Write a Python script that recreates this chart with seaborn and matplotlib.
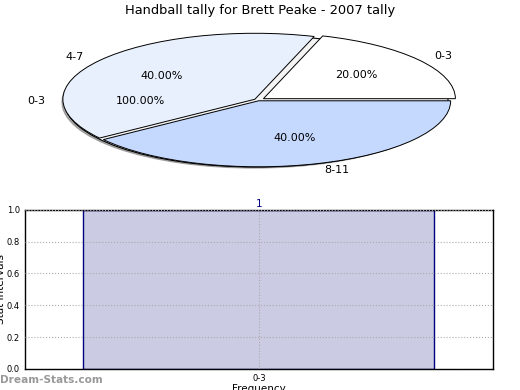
import matplotlib
matplotlib.use('Agg')
import matplotlib.pyplot as plt
import seaborn as sns
import pandas as pd

# pie data
pie_labels = ['0-3', '4-7', '8-11']
pie_values = [20, 40, 40]
pie_colors = ['#ffffff', '#e9f0fd', '#c5d8fd']

# background slice (shows as 0-3 100.00%)
bg_labels = ['0-3']
bg_values = [1]

# bar data
bar_cats = ['0-3']
bar_vals = [1]

sns.set_style('white')
plt.rcParams['font.family'] = ['DejaVu Sans']
plt.rcParams['text.color'] = 'black'
plt.rcParams['axes.labelcolor'] = 'black'
plt.rcParams['xtick.color'] = 'black'
plt.rcParams['ytick.color'] = 'black'

fig = plt.figure(figsize=(5.2, 3.9), dpi=100)

# ---- pie
ax1 = fig.add_axes([0.0346, 0.532, 0.923, 0.423])
ax1.pie(bg_values, labels=bg_labels, autopct='%.2f%%', startangle=0,
        colors=['#f4f4f4'], center=(-0.01, -0.015),
        shadow={'ox': -0.008, 'oy': -0.012, 'shade': 0.6},
        wedgeprops=dict(edgecolor='black', linewidth=0.8),
        textprops=dict(fontsize=8))
ax1.pie(pie_values, labels=pie_labels, autopct='%.2f%%', startangle=0,
        colors=pie_colors, explode=[0.035, 0.02, 0.012],
        wedgeprops=dict(edgecolor='black', linewidth=0.7),
        textprops=dict(fontsize=8))
ax1.set_aspect('auto')
ax1.set_xlim(-1.25, 1.25)
ax1.set_ylim(-1.25, 1.25)

fig.text(0.5, 0.974, 'Handball tally for Brett Peake - 2007 tally', ha='center', va='center', fontsize=9.4)

# ---- bar
ax2 = fig.add_axes([0.048, 0.054, 0.9, 0.408])
df = pd.DataFrame({'cat': bar_cats, 'val': bar_vals})
sns.barplot(data=df, x='cat', y='val', ax=ax2, width=0.75, color='#cbcbe4',
            edgecolor='#000080', linewidth=1, saturation=1, zorder=1)
ax2.set_xlim(-0.5, 0.5)
ax2.set_ylim(0, 1)
ax2.set_yticks([0, 0.2, 0.4, 0.6, 0.8, 1.0])
ax2.set_yticklabels(['0.0', '0.2', '0.4', '0.6', '0.8', '1.0'])
ax2.grid(True, axis='both', linestyle=':', color='#aaaaaa', linewidth=0.8, zorder=2)
ax2.set_axisbelow(False)
ax2.tick_params(labelsize=6, length=2, pad=1.5, color='#999999')
for s in ax2.spines.values():
    s.set_color('black')
    s.set_linewidth(1)
ax2.set_xlabel('Frequency', fontsize=7.5, labelpad=1)
ax2.set_ylabel('Stat intervals', fontsize=7.5)
ax2.yaxis.set_label_coords(-0.041, 0.5)
for i, v in enumerate(bar_vals):
    ax2.text(i, v + 0.005, str(v), ha='center', va='bottom', fontsize=7.5, color='#000080')

fig.text(0.0, 0.025, 'Dream-Stats.com', fontsize=7.6, fontweight='bold', color='#999999', va='center')

fig.savefig('out.png', dpi=100)
